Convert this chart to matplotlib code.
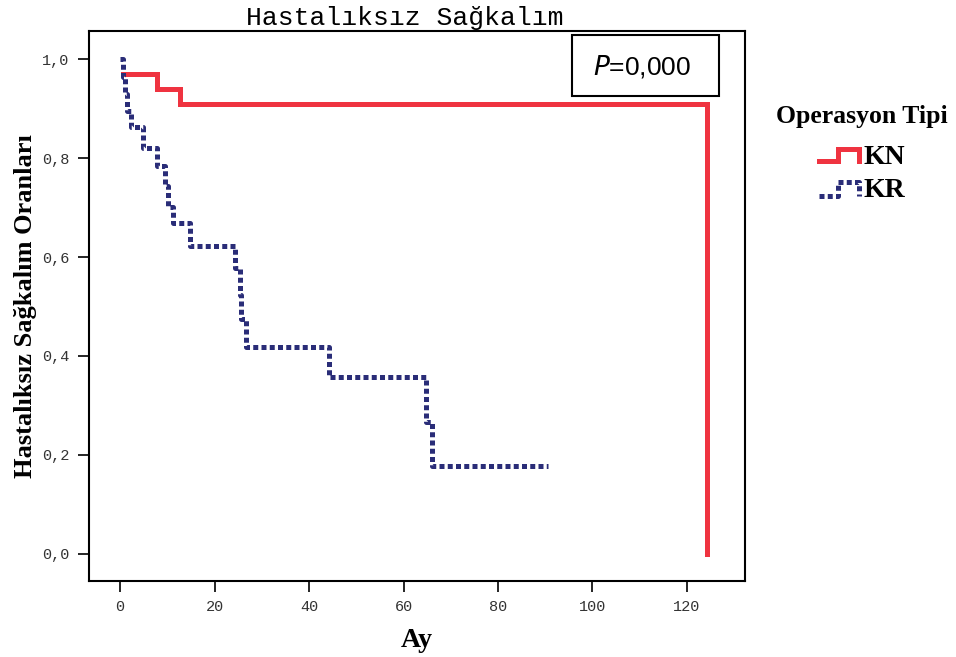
import matplotlib
matplotlib.use("Agg")
import matplotlib.pyplot as plt
from matplotlib.lines import Line2D
import numpy as np

# Kaplan-Meier steps
kn_time = [0.0, 0.7, 7.8, 12.7, 124.2]
kn_surv = [1.0, 0.97, 0.94, 0.91, 0.0]

kr_time = [0.0, 0.6, 1.0, 1.5, 2.2, 4.8, 7.7, 9.5, 10.1, 11.1, 14.8,
           24.3, 25.4, 25.6, 26.7, 44.2, 64.8, 66.0, 90.5]
kr_surv = [1.0, 0.965, 0.93, 0.895, 0.862, 0.82, 0.784, 0.743, 0.702, 0.669, 0.623,
           0.577, 0.523, 0.475, 0.418, 0.358, 0.266, 0.178, 0.178]

x_ticks = [0, 20, 40, 60, 80, 100, 120]
y_ticks = [0.0, 0.2, 0.4, 0.6, 0.8, 1.0]
y_labels = ["0,0", "0,2", "0,4", "0,6", "0,8", "1,0"]

red = "#ef3340"
navy = "#2a2d78"

fig = plt.figure(figsize=(9.56, 6.57), dpi=100)
ax = fig.add_axes([89/956, 1 - 581/657, (745-89)/956, (581-31)/657])

ax.step(kn_time[1:], kn_surv[1:], where="post", color=red, linewidth=3.6,
        solid_joinstyle="miter")
ax.step(kr_time, kr_surv, where="post", color=navy, linewidth=3.6,
        linestyle=(0, (1, 0.65)), dash_capstyle="butt")

ax.set_xlim(-6.6, 132.3)
ax.set_ylim(-0.055, 1.057)
ax.set_xticks(x_ticks)
ax.set_xticklabels([str(t) for t in x_ticks], family="Liberation Mono", fontsize=11)
ax.set_yticks(y_ticks)
ax.set_yticklabels(y_labels, family="Liberation Mono", fontsize=11)
ax.tick_params(direction="out", length=8, width=1.2, pad=6, colors="black",
               labelcolor="#333333")
for s in ax.spines.values():
    s.set_linewidth(1.5)

ax.set_xlabel("Ay", family="Liberation Serif", fontweight="bold", fontsize=20, labelpad=10)
ax.set_ylabel("Hastalıksız Sağkalım Oranları", family="Liberation Serif",
              fontweight="bold", fontsize=19, labelpad=4)
fig.text(405/956, 1 - 18/657, "Hastalıksız Sağkalım", family="Liberation Mono",
         fontsize=19, ha="center", va="center")

# P value box
fig.text(642/956, 1 - 66/657, r"$\mathit{P}$=0,000", family="Liberation Sans",
         fontsize=19, ha="center", va="center")
fig.patches.append(plt.Rectangle((572/956, 1 - 96/657), (719-572)/956, (96-35)/657,
                                 transform=fig.transFigure, fill=False,
                                 edgecolor="black", linewidth=1.5))

# legend with step-shaped symbols
fig.text(862/956, 1 - 117/657, "Operasyon Tipi", family="Liberation Serif",
         fontweight="bold", fontsize=18.5, ha="center", va="center")
def fx(p):
    return p / 956
def fy(p):
    return 1 - p / 657
fig.add_artist(Line2D([fx(819), fx(838), fx(838), fx(859), fx(859)],
                      [fy(161), fy(161), fy(149), fy(149), fy(161)],
                      color=red, linewidth=3.6, solid_joinstyle="miter"))
fig.add_artist(Line2D([fx(819), fx(838), fx(838), fx(859), fx(859)],
                      [fy(196), fy(196), fy(182), fy(182), fy(196)],
                      color=navy, linewidth=3.6, linestyle=(0, (1, 0.65)),
                      dash_capstyle="butt"))
fig.text(864/956, 1 - 157/657, "KN", family="Liberation Serif", fontweight="bold",
         fontsize=20, ha="left", va="center")
fig.text(864/956, 1 - 191/657, "KR", family="Liberation Serif", fontweight="bold",
         fontsize=20, ha="left", va="center")

fig.savefig("out.png", dpi=100)
